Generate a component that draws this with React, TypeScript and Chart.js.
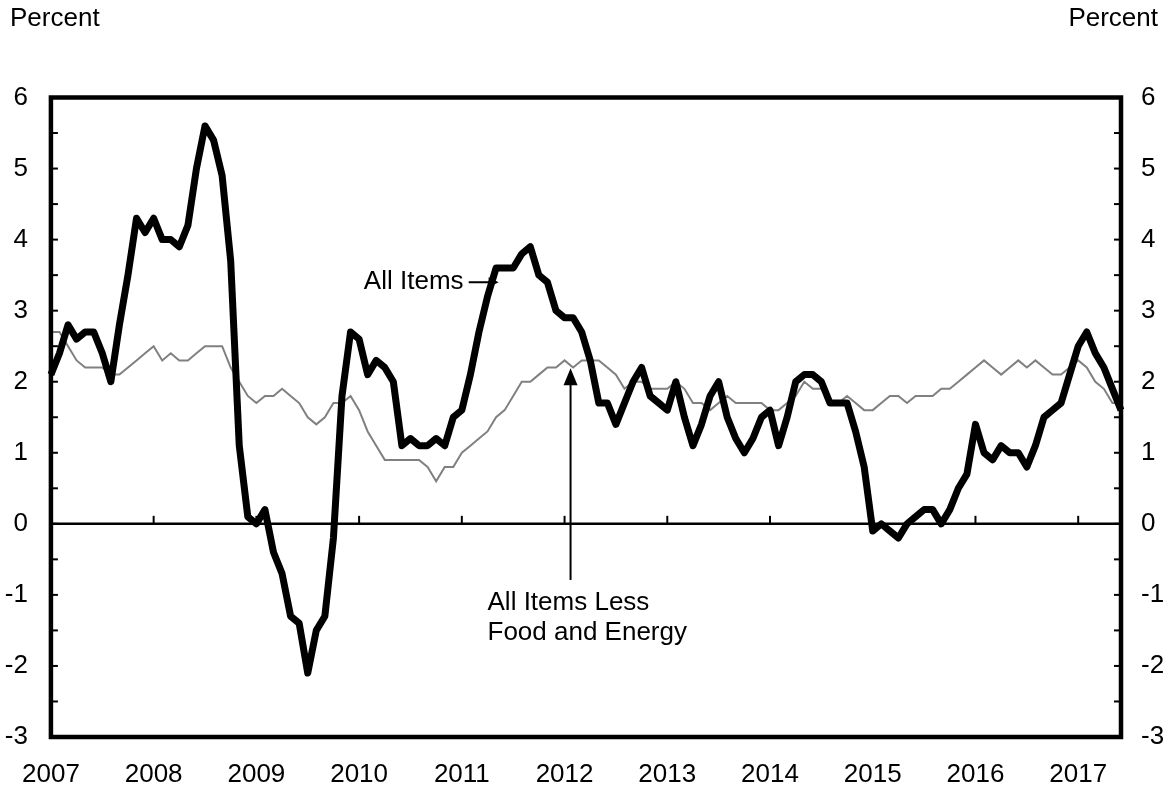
import React, { useEffect, useRef } from "react";
import { Chart, registerables } from "chart.js";

Chart.register(...registerables);

// Monthly, Jan 2007 - Jun 2017
const years = [2007, 2008, 2009, 2010, 2011, 2012, 2013, 2014, 2015, 2016, 2017];
const months: string[] = [];
years.forEach((yr) => {
  for (let m = 1; m <= 12; m++) {
    if (yr === 2017 && m > 6) break;
    months.push(`${yr}-${m < 10 ? "0" + m : m}`);
  }
});

// CPI All Items, 12-month percent change
const allItems = [
  2.1, 2.4, 2.8, 2.6, 2.7, 2.7, 2.4, 2.0, 2.8, 3.5, 4.3, 4.1,
  4.3, 4.0, 4.0, 3.9, 4.2, 5.0, 5.6, 5.4, 4.9, 3.7, 1.1, 0.1,
  0.0, 0.2, -0.4, -0.7, -1.3, -1.4, -2.1, -1.5, -1.3, -0.2, 1.8, 2.7,
  2.6, 2.1, 2.3, 2.2, 2.0, 1.1, 1.2, 1.1, 1.1, 1.2, 1.1, 1.5,
  1.6, 2.1, 2.7, 3.2, 3.6, 3.6, 3.6, 3.8, 3.9, 3.5, 3.4, 3.0,
  2.9, 2.9, 2.7, 2.3, 1.7, 1.7, 1.4, 1.7, 2.0, 2.2, 1.8, 1.7,
  1.6, 2.0, 1.5, 1.1, 1.4, 1.8, 2.0, 1.5, 1.2, 1.0, 1.2, 1.5,
  1.6, 1.1, 1.5, 2.0, 2.1, 2.1, 2.0, 1.7, 1.7, 1.7, 1.3, 0.8,
  -0.1, 0.0, -0.1, -0.2, 0.0, 0.1, 0.2, 0.2, 0.0, 0.2, 0.5, 0.7,
  1.4, 1.0, 0.9, 1.1, 1.0, 1.0, 0.8, 1.1, 1.5, 1.6, 1.7, 2.1,
  2.5, 2.7, 2.4, 2.2, 1.9, 1.6,
];

// CPI All Items Less Food and Energy
const coreItems = [
  2.7, 2.7, 2.5, 2.3, 2.2, 2.2, 2.2, 2.1, 2.1, 2.2, 2.3, 2.4,
  2.5, 2.3, 2.4, 2.3, 2.3, 2.4, 2.5, 2.5, 2.5, 2.2, 2.0, 1.8,
  1.7, 1.8, 1.8, 1.9, 1.8, 1.7, 1.5, 1.4, 1.5, 1.7, 1.7, 1.8,
  1.6, 1.3, 1.1, 0.9, 0.9, 0.9, 0.9, 0.9, 0.8, 0.6, 0.8, 0.8,
  1.0, 1.1, 1.2, 1.3, 1.5, 1.6, 1.8, 2.0, 2.0, 2.1, 2.2, 2.2,
  2.3, 2.2, 2.3, 2.3, 2.3, 2.2, 2.1, 1.9, 2.0, 2.0, 1.9, 1.9,
  1.9, 2.0, 1.9, 1.7, 1.7, 1.6, 1.7, 1.8, 1.7, 1.7, 1.7, 1.7,
  1.6, 1.6, 1.7, 1.8, 2.0, 1.9, 1.9, 1.7, 1.7, 1.8, 1.7, 1.6,
  1.6, 1.7, 1.8, 1.8, 1.7, 1.8, 1.8, 1.8, 1.9, 1.9, 2.0, 2.1,
  2.2, 2.3, 2.2, 2.1, 2.2, 2.3, 2.2, 2.3, 2.2, 2.1, 2.1, 2.2,
  2.3, 2.2, 2.0, 1.9, 1.7, 1.7,
];

const yMin = -3;
const yMax = 6;
const FONT = "'Liberation Sans', Arial, Helvetica, sans-serif";
const FSIZE = 26;

const decorPlugin = {
  id: "decor",
  afterDatasetsDraw(chart: any) {
    const { ctx, chartArea: a, scales } = chart;
    const xs = scales.x;
    const ys = scales.y;
    const line = (x1: number, y1: number, x2: number, y2: number) => {
      ctx.beginPath();
      ctx.moveTo(x1, y1);
      ctx.lineTo(x2, y2);
      ctx.stroke();
    };
    ctx.save();
    ctx.strokeStyle = "#000";
    ctx.fillStyle = "#000";
    ctx.lineCap = "butt";

    // zero line
    const y0 = ys.getPixelForValue(0);
    ctx.lineWidth = 2.5;
    line(a.left, y0, a.right, y0);

    // year ticks on zero line
    ctx.lineWidth = 2;
    months.forEach((m, i) => {
      if (i > 0 && m.endsWith("-01")) {
        const px = xs.getPixelForValue(i);
        line(px, y0, px, y0 - 8);
      }
    });

    // y ticks inside, every 0.5
    for (let v = yMin + 0.5; v < yMax; v += 0.5) {
      const py = ys.getPixelForValue(v);
      line(a.left, py, a.left + 7, py);
      line(a.right, py, a.right - 7, py);
    }

    // frame
    ctx.lineWidth = 4.5;
    ctx.strokeRect(a.left, a.top, a.right - a.left, a.bottom - a.top);

    // text
    ctx.font = `${FSIZE}px ${FONT}`;
    ctx.textBaseline = "middle";
    ctx.textAlign = "left";
    ctx.fillText("Percent", 10, 19);
    ctx.textAlign = "right";
    ctx.fillText("Percent", 1158, 19);

    // All Items annotation
    const aiY = ys.getPixelForValue(3.4);
    ctx.textAlign = "right";
    ctx.fillText("All Items", xs.getPixelForValue(48.2), aiY);
    const ax1 = xs.getPixelForValue(48.8);
    const ax2 = xs.getPixelForValue(52.3);
    ctx.lineWidth = 2;
    line(ax1, aiY, ax2 - 8, aiY);
    ctx.beginPath();
    ctx.moveTo(ax2, aiY);
    ctx.lineTo(ax2 - 10, aiY - 5);
    ctx.lineTo(ax2 - 10, aiY + 5);
    ctx.closePath();
    ctx.fill();

    // Core annotation
    const cx = xs.getPixelForValue(60.7);
    const tipY = ys.getPixelForValue(2.19);
    const baseY = ys.getPixelForValue(-0.79);
    ctx.lineWidth = 2;
    line(cx, baseY, cx, tipY + 14);
    ctx.beginPath();
    ctx.moveTo(cx, tipY);
    ctx.lineTo(cx - 7, tipY + 17);
    ctx.lineTo(cx + 7, tipY + 17);
    ctx.closePath();
    ctx.fill();
    ctx.textAlign = "left";
    const tx = xs.getPixelForValue(51.0);
    ctx.fillText("All Items Less", tx, ys.getPixelForValue(-1.11));
    ctx.fillText("Food and Energy", tx, ys.getPixelForValue(-1.53));

    ctx.restore();
  },
};

export default function App() {
  const ref = useRef<HTMLCanvasElement>(null);
  useEffect(() => {
    if (!ref.current) return;
    const tickFont = { family: FONT, size: FSIZE };
    const chart = new Chart(ref.current, {
      type: "line",
      data: {
        labels: months,
        datasets: [
          {
            label: "All Items",
            data: allItems,
            borderColor: "#000000",
            borderWidth: 7,
            pointRadius: 0,
            borderJoinStyle: "round",
            tension: 0,
            yAxisID: "y",
          },
          {
            label: "All Items Less Food and Energy",
            data: coreItems,
            borderColor: "#808080",
            borderWidth: 2,
            pointRadius: 0,
            tension: 0,
            yAxisID: "y",
          },
        ],
      },
      options: {
        responsive: false,
        animation: false,
        devicePixelRatio: 1,
        layout: { padding: { top: 97.5, left: 0, right: 0, bottom: 0 } },
        plugins: { legend: { display: false }, tooltip: { enabled: false } },
        scales: {
          x: {
            type: "category",
            offset: false,
            grid: { display: false, drawTicks: false },
            border: { display: false },
            ticks: {
              autoSkip: false,
              maxRotation: 0,
              minRotation: 0,
              padding: 22,
              color: "#000",
              font: tickFont,
              callback: (v: any, i: number) =>
                months[i].endsWith("-01") ? months[i].slice(0, 4) : "",
            },
            afterFit: (s: any) => {
              s.height = 48;
            },
          },
          y: {
            type: "linear",
            position: "left",
            min: yMin,
            max: yMax,
            grid: { display: false, drawTicks: false },
            border: { display: false },
            ticks: { stepSize: 1, padding: 23, color: "#000", font: tickFont },
            afterFit: (s: any) => {
              s.width = 50;
            },
          },
          y2: {
            type: "linear",
            position: "right",
            min: yMin,
            max: yMax,
            grid: { display: false, drawTicks: false },
            border: { display: false },
            ticks: { stepSize: 1, padding: 20, color: "#000", font: tickFont },
            afterFit: (s: any) => {
              s.width = 50;
            },
          },
        },
      },
      plugins: [decorPlugin],
    } as any);
    return () => chart.destroy();
  }, []);
  return (
    <div style={{ position: "absolute", left: 0, top: 0, width: 1171, height: 785, background: "#fff" }}>
      <canvas ref={ref} width={1171} height={785} />
    </div>
  );
}
